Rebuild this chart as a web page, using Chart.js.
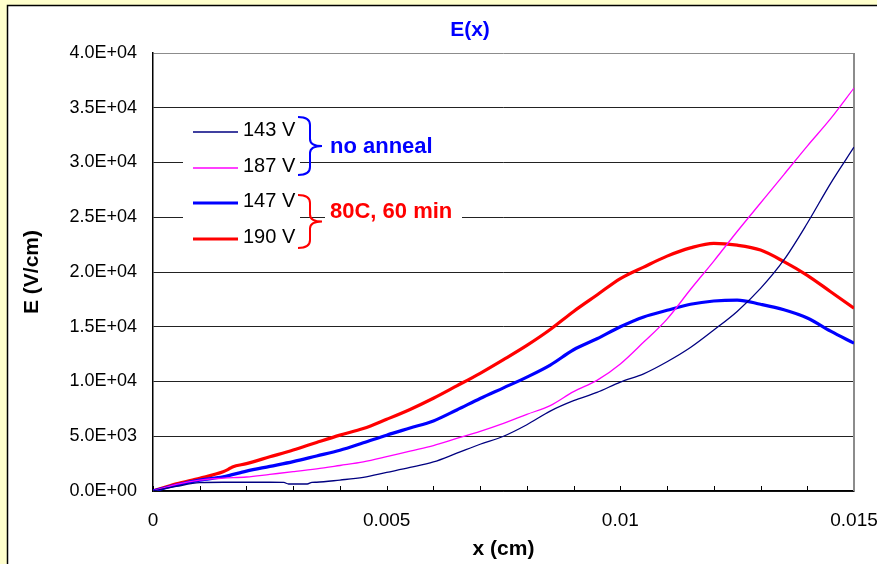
<!DOCTYPE html>
<html>
<head>
<meta charset="utf-8">
<script src="https://cdn.jsdelivr.net/npm/chart.js@4.4.1/dist/chart.umd.min.js"></script>
<style>
  html, body { margin: 0; padding: 0; background: #FFFFCC; }
  #wrap { width: 877px; height: 564px; position: relative; }
</style>
</head>
<body>
<div id="wrap"><canvas id="Chart"></canvas></div>
<script>
// * Data (x in cm, E in V/cm)

// shared x grid for 187 V and 147 V
const xGrid = [0, 0.0005, 0.001, 0.0015, 0.002, 0.0025, 0.003, 0.0035, 0.004, 0.0045,
  0.005, 0.0055, 0.006, 0.0065, 0.007, 0.0075, 0.008, 0.0085, 0.009, 0.0095,
  0.01, 0.0105, 0.011, 0.0115, 0.012, 0.0125, 0.013, 0.0135, 0.014, 0.0145, 0.015]

// 143 V, no anneal
const x143 = [0, 0.0005, 0.001, 0.0015, 0.002, 0.0025, 0.0028, 0.0029, 0.0033, 0.0034,
  0.0035, 0.004, 0.0045, 0.005, 0.0055, 0.006, 0.0065, 0.007, 0.0075, 0.008,
  0.0085, 0.009, 0.0095, 0.01, 0.0105, 0.011, 0.0115, 0.012, 0.0125, 0.013,
  0.0135, 0.014, 0.0145, 0.015]
const e143 = [0, 420, 760, 800, 800, 800, 780, 640, 640, 790,
  800, 1000, 1250, 1700, 2150, 2650, 3450, 4270, 5000, 6050,
  7300, 8250, 9000, 9950, 10700, 11800, 13100, 14700, 16400, 18500,
  21100, 24450, 28100, 31400]

// 187 V, no anneal
const e187 = [0, 600, 1000, 1170, 1280, 1520, 1760, 2020, 2330, 2650,
  3130, 3650, 4150, 4800, 5450, 6180, 7000, 7800, 9080, 10100,
  11600, 13600, 15700, 18400, 21000, 23700, 26300, 28900, 31500, 34000, 36800]

// 147 V, 80C 60 min
const e147 = [0, 550, 1000, 1300, 1820, 2250, 2680, 3200, 3720, 4400,
  5100, 5750, 6400, 7400, 8450, 9420, 10400, 11500, 12900, 13900,
  15000, 15900, 16500, 17050, 17350, 17440, 17050, 16550, 15800, 14600, 13500]

// 190 V, 80C 60 min
const x190 = [0, 0.0005, 0.001, 0.0015, 0.0016, 0.0017, 0.002, 0.0025, 0.003, 0.0035,
  0.004, 0.0045, 0.005, 0.0055, 0.006, 0.0065, 0.007, 0.0075, 0.008, 0.0085,
  0.009, 0.0095, 0.01, 0.0105, 0.011, 0.0115, 0.012, 0.0125, 0.013, 0.0135,
  0.014, 0.0145, 0.015]
const e190 = [0, 650, 1160, 1750, 1950, 2200, 2500, 3120, 3740, 4430,
  5100, 5700, 6550, 7450, 8470, 9600, 10750, 12000, 13300, 14750,
  16400, 17900, 19400, 20450, 21450, 22200, 22620, 22450, 22000, 20950,
  19700, 18200, 16700]

const seriesLabels = ['143 V', '187 V', '147 V', '190 V']
const groupLabels = ['no anneal', '80C, 60 min']

// * Tick labels
const xTickLabels = ['0', '0.005', '0.01', '0.015']
const yTickLabels = ['0.0E+00', '5.0E+03', '1.0E+04', '1.5E+04', '2.0E+04',
  '2.5E+04', '3.0E+04', '3.5E+04', '4.0E+04']

const FONT = '"Liberation Sans", Arial, sans-serif'

const pts = (xs, ys) => xs.map((x, i) => ({ x: x, y: ys[i] }))

const data = {
  datasets: [{
    label: seriesLabels[0],
    data: pts(x143, e143),
    borderColor: '#000080',
    borderWidth: 1.3,
  }, {
    label: seriesLabels[1],
    data: pts(xGrid, e187),
    borderColor: '#FF00FF',
    borderWidth: 1.3,
  }, {
    label: seriesLabels[2],
    data: pts(xGrid, e147),
    borderColor: '#0000FF',
    borderWidth: 3.2,
  }, {
    label: seriesLabels[3],
    data: pts(x190, e190),
    borderColor: '#FF0000',
    borderWidth: 3.2,
  }]
}

// * Frame: yellow page with white chart panel
const framePlugin = {
  id: 'frame',
  beforeDraw(chart) {
    const ctx = chart.ctx
    ctx.save()
    ctx.fillStyle = '#FFFFCC'
    ctx.fillRect(0, 0, chart.width, chart.height)
    ctx.fillStyle = '#FFFFFF'
    ctx.fillRect(8, 6, chart.width, chart.height)
    ctx.strokeStyle = '#000000'
    ctx.lineWidth = 1.5
    ctx.beginPath()
    ctx.moveTo(7.5, chart.height)
    ctx.lineTo(7.5, 5.5)
    ctx.lineTo(chart.width, 5.5)
    ctx.stroke()
    ctx.restore()
  }
}

// * Inward x tick marks and grey right edge
const axisPlugin = {
  id: 'axisExtras',
  beforeDatasetsDraw(chart) {
    const { ctx, chartArea: a, scales: { x } } = chart
    ctx.save()
    ctx.strokeStyle = '#000000'
    ctx.lineWidth = 1
    x.ticks.forEach(t => {
      const px = Math.round(x.getPixelForValue(t.value)) + 0.5
      ctx.beginPath()
      ctx.moveTo(px, a.bottom)
      ctx.lineTo(px, a.bottom - 5)
      ctx.stroke()
    })
    ctx.strokeStyle = '#8C8C8C'
    ctx.lineWidth = 2
    ctx.beginPath()
    ctx.moveTo(a.right, a.top)
    ctx.lineTo(a.right, a.bottom)
    ctx.stroke()
    ctx.restore()
  }
}

// * Title, legend box and group brackets
function brace(ctx, x, top, bottom, color) {
  const mid = (top + bottom) / 2
  ctx.strokeStyle = color
  ctx.lineWidth = 2
  ctx.beginPath()
  ctx.moveTo(x, top)
  ctx.quadraticCurveTo(x + 12, top, x + 12, top + 8)
  ctx.lineTo(x + 12, mid - 7)
  ctx.quadraticCurveTo(x + 12, mid, x + 24, mid)
  ctx.quadraticCurveTo(x + 12, mid, x + 12, mid + 7)
  ctx.lineTo(x + 12, bottom - 8)
  ctx.quadraticCurveTo(x + 12, bottom, x, bottom)
  ctx.stroke()
}

const overlayPlugin = {
  id: 'overlay',
  afterDatasetsDraw(chart) {
    const ctx = chart.ctx
    ctx.save()

    // chart title
    ctx.fillStyle = '#0000FF'
    ctx.font = 'bold 21px ' + FONT
    ctx.textAlign = 'center'
    ctx.textBaseline = 'middle'
    ctx.fillText('E(x)', 470, 30)

    // legend box
    ctx.fillStyle = '#FFFFFF'
    ctx.fillRect(183, 113, 117, 142)
    const rowY = [130, 166, 201, 237]
    ctx.font = '20px ' + FONT
    ctx.textAlign = 'left'
    chart.data.datasets.forEach((ds, i) => {
      const y = rowY[i]
      ctx.strokeStyle = ds.borderColor
      ctx.lineWidth = ds.borderWidth
      ctx.beginPath()
      ctx.moveTo(193, y + 2)
      ctx.lineTo(238, y + 2)
      ctx.stroke()
      ctx.fillStyle = '#000000'
      ctx.fillText(ds.label, 243, y)
    })

    // group brackets
    brace(ctx, 298, 117, 175, '#0000FF')
    brace(ctx, 298, 195, 248, '#FF0000')
    ctx.font = 'bold 22px ' + FONT
    ctx.fillStyle = '#FFFFFF'
    ctx.fillRect(325, 199, 137, 26)
    ctx.fillStyle = '#0000FF'
    ctx.fillText(groupLabels[0], 330, 147)
    ctx.fillStyle = '#FF0000'
    ctx.fillText(groupLabels[1], 330, 212)
    ctx.restore()
  }
}

// * Config Block
const config = {
  type: 'line',
  data,
  options: {
    responsive: true,
    maintainAspectRatio: false,
    animation: false,
    layout: { padding: { left: 0, top: 53, right: 23, bottom: 0 } },
    elements: {
      point: { radius: 0 },
      line: { tension: 0, cubicInterpolationMode: 'monotone', fill: false }
    },
    plugins: {
      legend: { display: false },
      title: { display: false },
      tooltip: { enabled: false }
    },
    scales: {
      x: {
        type: 'linear',
        min: 0,
        max: 0.015,
        // keep the plot edge at 0.015 even though its label runs off the page
        afterFit: s => { s.height = 73; s.paddingLeft = 0; s.paddingRight = 0 },
        grid: { display: false, drawTicks: false },
        border: { display: true, color: '#000000', width: 1.5 },
        ticks: {
          stepSize: 0.001,
          autoSkip: false,
          maxRotation: 0,
          padding: 18,
          color: '#000000',
          font: { family: FONT, size: 19 },
          callback: v => {
            const k = Math.round(v * 1000)
            return k % 5 === 0 ? xTickLabels[k / 5] : ''
          }
        },
        title: {
          display: true,
          text: 'x (cm)',
          color: '#000000',
          font: { family: FONT, size: 21, weight: 'bold', lineHeight: 1.2 },
          padding: { top: 0, bottom: 2 }
        }
      },
      y: {
        min: 0,
        max: 40000,
        afterFit: s => { s.width = 153 },
        grid: {
          drawTicks: false,
          color: c => c.tick && c.tick.value === 40000 ? '#8C8C8C' : '#222222',
          lineWidth: 1
        },
        border: { display: true, color: '#000000', width: 1.5 },
        ticks: {
          stepSize: 5000,
          padding: 16,
          color: '#000000',
          font: { family: FONT, size: 18 },
          callback: v => yTickLabels[Math.round(v / 5000)]
        },
        title: {
          display: true,
          text: 'E (V/cm)',
          color: '#000000',
          font: { family: FONT, size: 21, weight: 'bold', lineHeight: 1.2 },
          padding: { top: 20, bottom: 0 }
        }
      }
    }
  },
  plugins: [framePlugin, axisPlugin, overlayPlugin]
}

// * Init / Render Block
const lineChart = new Chart(
  document.getElementById('Chart'),
  config
)
</script>
</body>
</html>
